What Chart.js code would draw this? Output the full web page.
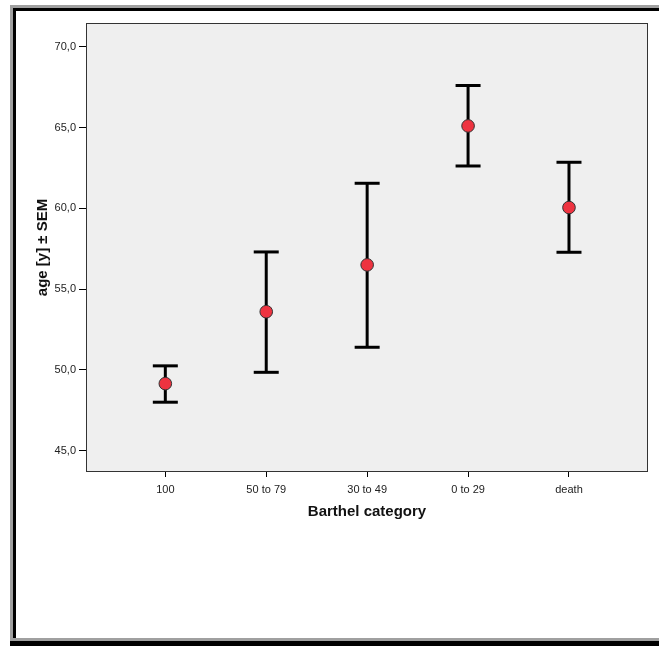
<!DOCTYPE html>
<html>
<head>
<meta charset="utf-8">
<script src="https://cdn.jsdelivr.net/npm/chart.js@4"></script>
<style>
  body { margin: 0; background: #fff; }
  #wrap { position: relative; width: 659px; height: 646px; overflow: hidden; }
  .fr { position: absolute; }
</style>
</head>
<body>
<div id="wrap">
  <canvas id="chart" width="659" height="646"></canvas>
  <!-- outer frame, no right side -->
  <div class="fr" style="left:10px;top:5px;width:649px;height:3px;background:#a0a0a0"></div>
  <div class="fr" style="left:13px;top:8px;width:646px;height:3px;background:#000"></div>
  <div class="fr" style="left:10px;top:5px;width:3px;height:636px;background:#a0a0a0"></div>
  <div class="fr" style="left:13px;top:8px;width:3px;height:633px;background:#000"></div>
  <div class="fr" style="left:13px;top:638px;width:646px;height:3px;background:#a0a0a0"></div>
  <div class="fr" style="left:10px;top:641px;width:649px;height:5px;background:#000"></div>
</div>
<script>
const categories = ['100', '50 to 79', '30 to 49', '0 to 29', 'death'];
const meanAge = [49.15, 53.6, 56.5, 65.1, 60.05];
const upperSem = [50.25, 57.3, 61.55, 67.6, 62.85];
const lowerSem = [48.0, 49.85, 51.4, 62.62, 57.28];
const yTicks = [45, 50, 55, 60, 65, 70];

const font = 'Liberation Sans, Arial, sans-serif';

// one small line dataset per category for the SEM bar, caps come from the point style
const errorSets = categories.map((c, i) => ({
  type: 'line',
  data: [{ x: i, y: lowerSem[i] }, { x: i, y: upperSem[i] }],
  borderColor: '#000',
  borderWidth: 3,
  pointStyle: 'line',
  pointRadius: 12.5,
  pointBorderWidth: 3,
  pointBorderColor: '#000',
  pointHoverRadius: 12.5,
  order: 2
}));

const plotBox = {
  id: 'plotBox',
  beforeDatasetsDraw(chart) {
    const a = chart.chartArea, ctx = chart.ctx;
    ctx.save();
    ctx.fillStyle = '#efefef';
    ctx.fillRect(a.left, a.top, a.right - a.left, a.bottom - a.top);
    ctx.strokeStyle = '#333';
    ctx.lineWidth = 1;
    ctx.strokeRect(a.left + 0.5, a.top + 0.5, a.right - a.left - 1, a.bottom - a.top - 1);
    ctx.restore();
  }
};

new Chart(document.getElementById('chart'), {
  type: 'scatter',
  data: {
    datasets: [{
      data: meanAge.map((v, i) => ({ x: i, y: v })),
      backgroundColor: '#ee3340',
      borderColor: '#333',
      borderWidth: 1,
      pointRadius: 6.3,
      pointHoverRadius: 6.3,
      order: 0
    }, ...errorSets]
  },
  options: {
    responsive: false,
    animation: false,
    events: [],
    layout: { autoPadding: false, padding: { left: 0, top: 23, right: 11, bottom: 114 } },
    plugins: { legend: { display: false }, tooltip: { enabled: false } },
    scales: {
      x: {
        type: 'linear',
        min: -0.786,
        max: 4.783,
        afterFit: s => { s.height = 60; s.paddingLeft = 0; s.paddingRight = 0; },
        afterBuildTicks: s => { s.ticks = categories.map((c, i) => ({ value: i })); },
        border: { display: false },
        grid: { drawOnChartArea: false, drawTicks: true, tickLength: 5, tickColor: '#000' },
        ticks: {
          padding: 6,
          color: '#222',
          font: { family: font, size: 11 },
          callback: v => categories[v],
          maxRotation: 0
        },
        title: {
          display: true,
          text: 'Barthel category',
          color: '#111',
          font: { family: font, size: 15, weight: 'bold' },
          padding: { top: 0, bottom: 11 }
        }
      },
      y: {
        min: 43.68,
        max: 71.47,
        afterFit: s => { s.width = 86; s.paddingTop = 0; s.paddingBottom = 0; },
        afterBuildTicks: s => { s.ticks = yTicks.map(v => ({ value: v })); },
        border: { display: false },
        grid: { drawOnChartArea: false, drawTicks: true, tickLength: 7, tickColor: '#000' },
        ticks: {
          padding: 3,
          color: '#222',
          font: { family: font, size: 11 },
          callback: v => v.toFixed(1).replace('.', ',')
        },
        title: {
          display: true,
          text: 'age [y] ± SEM',
          color: '#111',
          font: { family: font, size: 15, weight: 'bold' },
          padding: { top: 34, bottom: 0 }
        }
      }
    }
  },
  plugins: [plotBox]
});
</script>
</body>
</html>
